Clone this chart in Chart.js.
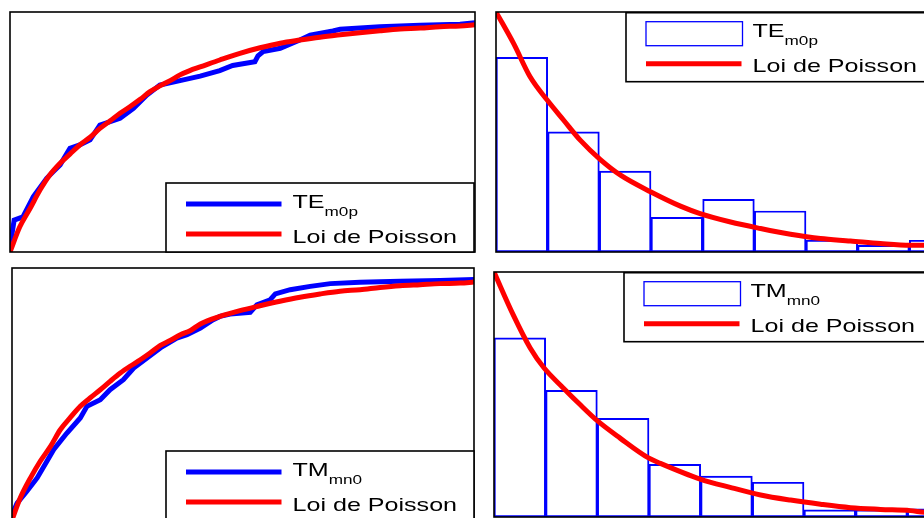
<!DOCTYPE html>
<html>
<head>
<meta charset="utf-8">
<script src="https://cdn.jsdelivr.net/npm/chart.js@4.4.1/dist/chart.umd.min.js"></script>
<style>
  html, body { margin:0; padding:0; background:#fff; width:924px; height:518px; overflow:hidden; position:relative; }
  canvas { position:absolute; }
</style>
</head>
<body>
<canvas id="tl"></canvas>
<canvas id="tr"></canvas>
<canvas id="bl"></canvas>
<canvas id="br"></canvas>
<script>
// ---------- DATA ----------
const legendPoisson = 'Loi de Poisson';
const nameTE = ['TE', 'm0p'];
const nameTM = ['TM', 'mn0'];

// histogram bins (centres) and normalised heights
const binCenters = [0.5, 1.5, 2.5, 3.5, 4.5, 5.5, 6.5, 7.5, 8.5];
const histTE = [0.811, 0.501, 0.337, 0.144, 0.219, 0.171, 0.049, 0.028, 0.049];
const histTM = [0.731, 0.517, 0.403, 0.215, 0.167, 0.142, 0.029, 0.029, 0.033];

// Poisson density curves
const pdfTEx = [0, 0.34, 0.66, 0.99, 1.31, 1.63, 2.02, 2.41, 3.0, 3.57, 3.95, 4.54, 5.12, 5.70, 6.28, 6.86, 7.44, 8.02, 8.29, 9.0];
const pdfTEy = [1.0, 0.869, 0.730, 0.633, 0.549, 0.466, 0.385, 0.320, 0.250, 0.191, 0.160, 0.125, 0.098, 0.074, 0.056, 0.046, 0.035, 0.028, 0.028, 0.022];
const pdfTMx = [0, 0.37, 0.70, 0.97, 1.34, 1.67, 2.01, 2.44, 2.99, 3.22, 3.99, 4.57, 5.16, 5.74, 6.32, 6.90, 7.48, 8.06, 8.33, 9.0];
const pdfTMy = [1.0, 0.826, 0.690, 0.608, 0.527, 0.458, 0.391, 0.322, 0.241, 0.219, 0.155, 0.121, 0.090, 0.069, 0.052, 0.038, 0.031, 0.026, 0.019, 0.015];

// cumulative curves, TE
const cdfTEpoisX = [0, 0.19, 0.39, 0.58, 0.77, 0.97, 1.16, 1.35, 1.55, 1.74, 1.94, 2.13, 2.32, 2.52, 2.71, 2.90, 3.10, 3.29, 3.48, 3.68, 4.06, 4.45, 4.84, 5.23, 5.61, 6.0, 6.39, 6.77, 7.16, 7.55, 7.94, 8.32, 8.71, 9.0];
const cdfTEpoisY = [0, 0.105, 0.182, 0.258, 0.321, 0.370, 0.408, 0.446, 0.478, 0.515, 0.547, 0.578, 0.605, 0.636, 0.668, 0.692, 0.714, 0.738, 0.756, 0.771, 0.800, 0.828, 0.851, 0.870, 0.883, 0.895, 0.905, 0.914, 0.922, 0.929, 0.933, 0.939, 0.942, 0.947];
const cdfTEempX = [0, 0.02, 0.08, 0.25, 0.42, 0.45, 0.71, 0.84, 0.97, 1.16, 1.35, 1.55, 1.74, 2.13, 2.39, 2.65, 2.90, 3.29, 3.68, 4.06, 4.31, 4.74, 4.80, 4.90, 5.23, 5.61, 5.81, 6.25, 6.39, 7.16, 7.94, 8.71, 9.0];
const cdfTEempY = [0.01, 0.05, 0.133, 0.146, 0.217, 0.23, 0.307, 0.335, 0.363, 0.432, 0.446, 0.467, 0.529, 0.557, 0.599, 0.654, 0.696, 0.714, 0.733, 0.756, 0.777, 0.793, 0.817, 0.835, 0.849, 0.883, 0.904, 0.921, 0.928, 0.939, 0.945, 0.949, 0.955];

// cumulative curves, TM
const cdfTMpoisX = [0, 0.16, 0.36, 0.55, 0.75, 0.94, 1.13, 1.33, 1.52, 1.72, 1.91, 2.11, 2.30, 2.50, 2.69, 2.89, 3.08, 3.28, 3.47, 3.67, 4.05, 4.44, 4.83, 5.22, 5.61, 6.0, 6.39, 6.78, 7.17, 7.56, 7.95, 8.34, 8.73, 9.0];
const cdfTMpoisY = [0, 0.087, 0.167, 0.233, 0.292, 0.358, 0.405, 0.451, 0.484, 0.517, 0.550, 0.583, 0.610, 0.636, 0.663, 0.693, 0.712, 0.735, 0.751, 0.778, 0.808, 0.831, 0.850, 0.868, 0.884, 0.897, 0.908, 0.914, 0.923, 0.930, 0.934, 0.938, 0.940, 0.944];
const cdfTMempX = [0, 0.03, 0.10, 0.29, 0.49, 0.68, 0.81, 1.07, 1.33, 1.46, 1.72, 1.91, 2.17, 2.37, 2.63, 2.89, 3.21, 3.41, 3.67, 3.92, 4.05, 4.25, 4.64, 4.77, 5.03, 5.13, 5.42, 5.81, 6.20, 6.78, 7.56, 8.34, 9.0];
const cdfTMempY = [0.01, 0.035, 0.067, 0.114, 0.167, 0.233, 0.279, 0.345, 0.405, 0.451, 0.477, 0.517, 0.557, 0.603, 0.643, 0.683, 0.722, 0.735, 0.762, 0.795, 0.808, 0.817, 0.824, 0.854, 0.874, 0.897, 0.914, 0.927, 0.938, 0.943, 0.947, 0.950, 0.954];

// ---------- HELPERS ----------
const zip = (xs, ys) => xs.map((x, i) => ({ x, y: ys[i] }));
const BLUE = '#0000ff', RED = '#ff0000';
const FONT = '"Liberation Sans", Arial, Helvetica, sans-serif';
const SX = 1.32;
const LW = 5;

function stretchedText(ctx, text, x, y, size) {
  ctx.save();
  ctx.font = size + 'px ' + FONT;
  ctx.translate(x, y);
  ctx.scale(SX, 1);
  ctx.fillText(text, 0, 0);
  const w = ctx.measureText(text).width * SX;
  ctx.restore();
  return w;
}

const framePlugin = {
  id: 'frame',
  afterDatasetsDraw(chart, args, opts) {
    const { ctx, chartArea: a } = chart;
    ctx.save();
    ctx.strokeStyle = '#000';
    ctx.lineWidth = 1.6;
    ctx.strokeRect(a.left, a.top, a.right - a.left, a.bottom - a.top);
    // legend
    const L = opts;
    const lx = a.left + L.dx, ly = L.fromBottom ? a.bottom - 69 : a.top + L.dy;
    ctx.fillStyle = '#fff';
    ctx.fillRect(lx, ly, 308, 69);
    ctx.strokeStyle = '#000';
    ctx.lineWidth = 1.6;
    ctx.strokeRect(lx, ly, 308, 69);
    // first entry
    if (L.patch) {
      ctx.strokeStyle = BLUE;
      ctx.lineWidth = 1.3;
      ctx.strokeRect(lx + 20, ly + 9, 96.5, 24);
    } else {
      ctx.strokeStyle = BLUE;
      ctx.lineWidth = LW;
      ctx.beginPath();
      ctx.moveTo(lx + 20, ly + 21);
      ctx.lineTo(lx + 115.5, ly + 21);
      ctx.stroke();
    }
    ctx.fillStyle = '#000';
    ctx.textBaseline = 'alphabetic';
    const w = stretchedText(ctx, L.name[0], lx + 126.5, ly + 24.5, 19);
    stretchedText(ctx, L.name[1], lx + 126.5 + w, ly + 32.5, 13);
    // second entry
    ctx.strokeStyle = RED;
    ctx.lineWidth = LW;
    ctx.beginPath();
    ctx.moveTo(lx + 20, ly + 51);
    ctx.lineTo(lx + 115.5, ly + 51);
    ctx.stroke();
    stretchedText(ctx, legendPoisson, lx + 126.5, ly + 59.5, 19);
    ctx.restore();
  }
};
Chart.register(framePlugin);

const PAD = 6;
function place(id, box) {
  const c = document.getElementById(id);
  c.width = box.w + 2 * PAD;
  c.height = box.h + 2 * PAD;
  c.style.width = c.width + 'px';
  c.style.height = c.height + 'px';
  c.style.left = (box.l - PAD) + 'px';
  c.style.top = (box.t - PAD) + 'px';
  return c;
}

function baseOptions(legend) {
  return {
    responsive: false,
    animation: false,
    events: [],
    devicePixelRatio: 1,
    layout: { padding: PAD },
    plugins: { legend: { display: false }, tooltip: { enabled: false }, frame: legend },
    scales: {
      x: { type: 'linear', min: 0, max: 9, display: false, offset: false },
      y: { type: 'linear', min: 0, max: 1, display: false }
    }
  };
}

function cdfChart(id, box, empX, empY, poisX, poisY, name, dx) {
  new Chart(place(id, box), {
    type: 'line',
    data: {
      datasets: [
        { data: zip(empX, empY), borderColor: BLUE, borderWidth: LW, pointRadius: 0, tension: 0, order: 1 },
        { data: zip(poisX, poisY), borderColor: RED, borderWidth: LW, pointRadius: 0, cubicInterpolationMode: 'monotone', order: 0 }
      ]
    },
    options: baseOptions({ name, dx, fromBottom: true })
  });
}

function histChart(id, box, hist, pX, pY, name, dx) {
  new Chart(place(id, box), {
    type: 'bar',
    data: {
      datasets: [
        { type: 'bar', data: zip(binCenters, hist), backgroundColor: 'rgba(255,255,255,0)', borderColor: BLUE,
          borderWidth: 1.3, borderSkipped: false, barPercentage: 1, categoryPercentage: 1, order: 1 },
        { type: 'line', data: zip(pX, pY), borderColor: RED, borderWidth: LW, pointRadius: 0,
          cubicInterpolationMode: 'monotone', order: 0 }
      ]
    },
    options: baseOptions({ name, dx, dy: 0.7, fromBottom: false, patch: true })
  });
}

cdfChart('tl', { l: 10, t: 12, w: 465, h: 240 }, cdfTEempX, cdfTEempY, cdfTEpoisX, cdfTEpoisY, nameTE, 156);
histChart('tr', { l: 496, t: 12, w: 465, h: 240 }, histTE, pdfTEx, pdfTEy, nameTE, 130);
cdfChart('bl', { l: 12, t: 268, w: 462, h: 252 }, cdfTMempX, cdfTMempY, cdfTMpoisX, cdfTMpoisY, nameTM, 154);
histChart('br', { l: 494, t: 272, w: 465, h: 245 }, histTM, pdfTMx, pdfTMy, nameTM, 130);
</script>
</body>
</html>
